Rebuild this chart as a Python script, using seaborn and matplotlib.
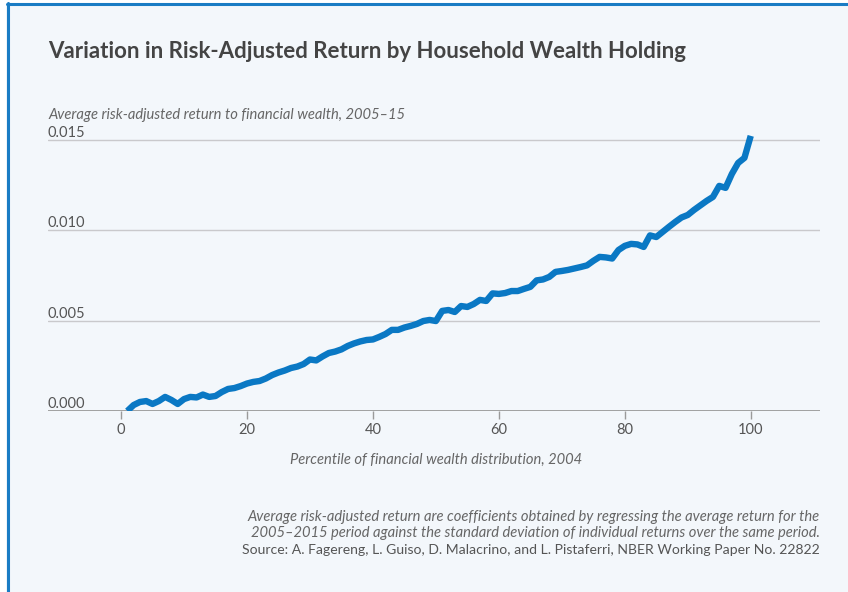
import matplotlib
matplotlib.use("Agg")
import matplotlib.pyplot as plt
import matplotlib.transforms as mtransforms
from matplotlib.patches import Rectangle
from matplotlib.lines import Line2D
import numpy as np
import pandas as pd
import seaborn as sns

# Percentile of financial wealth distribution (2004)
percentile = list(range(1, 101))

# Average risk-adjusted return to financial wealth, 2005-15
risk_adjusted_return = [
    0.00000, 0.00033, 0.00050, 0.00055, 0.00039, 0.00055, 0.00078, 0.00061, 0.00039, 0.00066,
    0.00078, 0.00075, 0.00091, 0.00078, 0.00083, 0.00105, 0.00122, 0.00127, 0.00138, 0.00152,
    0.00161, 0.00166, 0.00180, 0.00199, 0.00213, 0.00224, 0.00238, 0.00246, 0.00260, 0.00285,
    0.00280, 0.00302, 0.00321, 0.00329, 0.00341, 0.00360, 0.00374, 0.00385, 0.00393, 0.00396,
    0.00410, 0.00426, 0.00449, 0.00449, 0.00462, 0.00471, 0.00482, 0.00498, 0.00504, 0.00498,
    0.00554, 0.00559, 0.00548, 0.00581, 0.00576, 0.00592, 0.00615, 0.00609, 0.00651, 0.00648,
    0.00653, 0.00664, 0.00664, 0.00676, 0.00687, 0.00723, 0.00728, 0.00742, 0.00770, 0.00775,
    0.00781, 0.00789, 0.00797, 0.00806, 0.00831, 0.00853, 0.00850, 0.00844, 0.00891, 0.00914,
    0.00925, 0.00922, 0.00908, 0.00972, 0.00963, 0.00991, 0.01019, 0.01046, 0.01071, 0.01085,
    0.01113, 0.01138, 0.01163, 0.01185, 0.01246, 0.01235, 0.01312, 0.01373, 0.01401, 0.01523,
]

x_ticks = [0, 20, 40, 60, 80, 100]
y_ticks = [0.000, 0.005, 0.010, 0.015]
y_tick_labels = ["0.000", "0.005", "0.010", "0.015"]

title = "Variation in Risk-Adjusted Return by Household Wealth Holding"
y_title = "Average risk-adjusted return to financial wealth, 2005\u201315"
x_title = "Percentile of financial wealth distribution, 2004"
note_lines = [
    "Average risk-adjusted return are coefficients obtained by regressing the average return for the",
    "2005\u20132015 period against the standard deviation of individual returns over the same period.",
]
source = "Source: A. Fagereng, L. Guiso, D. Malacrino, and L. Pistaferri, NBER Working Paper No. 22822"

sns.set_theme(style="white")
plt.rcParams["font.family"] = ["Lato", "DejaVu Sans"]

BG = "#f3f7fb"
BLUE = "#1a7cc4"
LINE = "#0a78c4"
TEXT = "#555555"

W, H = 848, 592
fig = plt.figure(figsize=(W / 100, H / 100), dpi=100, facecolor="white")

# panel background with blue top and left edges
fig.patches.append(Rectangle((6 / W, 0), 1, 1 - 4 / H, transform=fig.transFigure,
                             facecolor=BG, edgecolor="none", zorder=-2))
fig.lines.append(Line2D([8 / W, 8 / W], [0, 1 - 3 / H], transform=fig.transFigure,
                        color=BLUE, lw=2.2, zorder=-1))
fig.lines.append(Line2D([7 / W, 1], [1 - 3.5 / H, 1 - 3.5 / H], transform=fig.transFigure,
                        color=BLUE, lw=2.2, zorder=-1))

ax = fig.add_axes([48 / W, 1 - 411 / H, 772 / W, 286 / H])
ax.set_facecolor("none")
ax.set_zorder(1)

df = pd.DataFrame({"percentile": percentile, "ret": risk_adjusted_return})
sns.lineplot(data=df, x="percentile", y="ret", ax=ax, color=LINE, lw=4.6,
             solid_capstyle="butt", solid_joinstyle="round", zorder=3)

ax.set_xlim(-11.6, 111)
ax.set_ylim(0, 0.01583)

for s in ax.spines.values():
    s.set_visible(False)

# horizontal gridlines
for v in y_ticks[1:]:
    ax.axhline(v, color="#c9c9cc", lw=1.0, zorder=1)
ax.axhline(0, color="#9a9a9a", lw=1.3, zorder=2)

ax.set_xticks(x_ticks)
ax.set_xticklabels([str(t) for t in x_ticks])
ax.tick_params(axis="x", length=6, width=1.0, color="#9a9a9a", direction="out",
               labelsize=10.5, labelcolor=TEXT, pad=3, bottom=True)
ax.set_yticks([])
ax.set_xlabel("")
ax.set_ylabel("")

# y tick labels sit just above their gridlines at the left edge
trans = mtransforms.blended_transform_factory(ax.transAxes, ax.transData)
off = mtransforms.offset_copy(trans, fig=fig, x=0, y=2.2, units="points")
for v, lab in zip(y_ticks, y_tick_labels):
    ax.text(0, v, lab, transform=off, ha="left", va="baseline", fontsize=10.5, color=TEXT)

fig.text(48 / W, 1 - 52 / H, title, ha="left", va="center", fontsize=16.05,
         fontweight="bold", color="#444444")
fig.text(48 / W, 1 - 115.5 / H, y_title, ha="left", va="center", fontsize=10.6,
         style="italic", color="#666666")
fig.text(436 / W, 1 - 460 / H, x_title, ha="center", va="center", fontsize=10.6,
         style="italic", color="#666666")
for i, line in enumerate(note_lines):
    fig.text(820 / W, 1 - (517 + 16.5 * i) / H, line, ha="right", va="center",
             fontsize=10.6, style="italic", color="#666666")
fig.text(820 / W, 1 - 550 / H, source, ha="right", va="center", fontsize=10.05,
         color=TEXT)

fig.savefig("out.png", dpi=100, facecolor=fig.get_facecolor())
